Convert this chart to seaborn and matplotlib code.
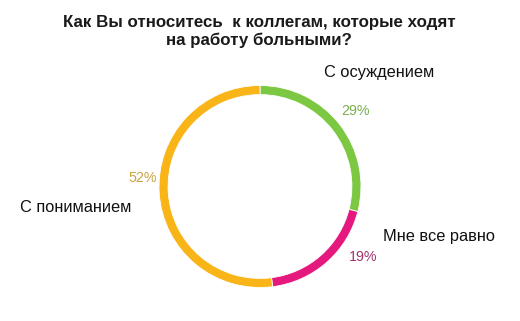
import matplotlib
matplotlib.use("Agg")
import matplotlib.pyplot as plt
import seaborn as sns

sns.set_theme(style="white")
plt.rcParams['font.family'] = ['Liberation Sans', 'DejaVu Sans']

title = "Как Вы относитесь  к коллегам, которые ходят\nна работу больными?"
categories = ["С осуждением", "Мне все равно", "С пониманием"]
values = [29, 19, 52]
pct_labels = ["29%", "19%", "52%"]
colors = ["#7DC843", "#E5197D", "#F9B418"]
pct_colors = ["#7BAF4E", "#A3336E", "#C8A441"]

W, H = 520, 321
fig = plt.figure(figsize=(W / 100, H / 100), dpi=100)
fig.patch.set_facecolor("white")

# ring centre ~ (260, 186.5) px, outer radius ~101 px
cx, cy, r = 260, 186.5, 101
ax = fig.add_axes([(cx - r) / W, (H - cy - r) / H, 2 * r / W, 2 * r / H])
ax.pie(values, colors=colors, startangle=90, counterclock=False, radius=1,
       wedgeprops=dict(width=0.09, edgecolor="white", linewidth=0.6))
ax.set_xlim(-1, 1)
ax.set_ylim(-1, 1)
ax.axis("off")

def ftext(px, py, s, **kw):
    fig.text(px / W, 1 - py / H, s, va="center", **kw)

ftext(259, 31.5, title, ha="center", fontsize=12.2, fontweight="bold",
      color="#1a1a1a", linespacing=1.25)

cat_pos = [(379, 73), (439, 236), (75.5, 208)]
pct_pos = [(356, 111), (363.5, 257), (143, 178)]
for cat, (x, y) in zip(categories, cat_pos):
    ftext(x, y, cat, ha="center", fontsize=11.8, color="#111111")
for p, c, (x, y) in zip(pct_labels, pct_colors, pct_pos):
    ftext(x, y, p, ha="center", fontsize=10.3, color=c)

fig.savefig("out.png", dpi=100, facecolor="white")
